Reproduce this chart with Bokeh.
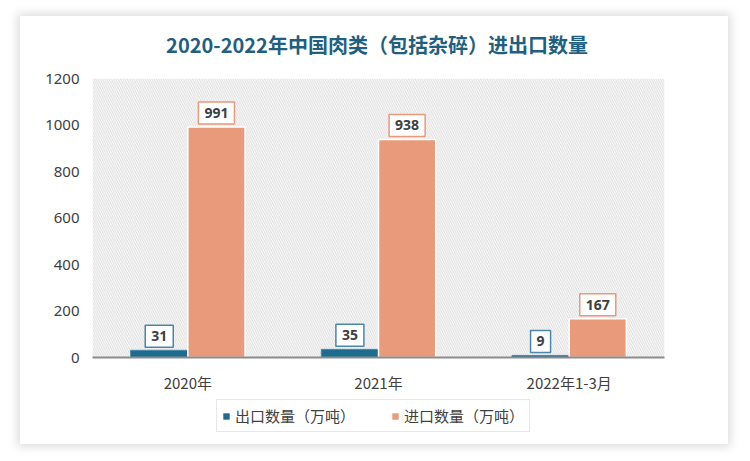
from bokeh.plotting import figure
from bokeh.layouts import column
from bokeh.models import ColumnDataSource, FactorRange, Range1d, BoxAnnotation, Legend, LegendItem, FixedTicker, Div
from bokeh.transform import dodge
from bokeh.core.properties import value
from bokeh.embed import file_html
from bokeh.resources import INLINE

categories = ["2020年", "2021年", "2022年1-3月"]
export_vals = [31, 35, 9]
import_vals = [991, 938, 167]
export_name = "出口数量（万吨）"
import_name = "进口数量（万吨）"
title_text = "2020-2022年中国肉类（包括杂碎）进出口数量"
y_ticks = [0, 200, 400, 600, 800, 1000, 1200]

EXP_FILL = "#1d6b8e"
EXP_EDGE = "#4a88aa"
IMP_FILL = "#e89a7a"

src = ColumnDataSource(dict(
    cat=categories,
    exp=export_vals,
    imp=import_vals,
    exp_lbl=[str(v) for v in export_vals],
    imp_lbl=[str(v) for v in import_vals],
))

CJK = "Noto Sans CJK SC"

title = Div(text=title_text, width=708, height=46, margin=0,
            styles={"font-family": CJK, "font-size": "20px", "font-weight": "bold",
                    "color": "#1f5f80", "text-align": "center", "line-height": "28px",
                    "padding-top": "15px", "padding-left": "6px", "box-sizing": "border-box",
                    "background-color": "white"})

p = figure(
    x_range=FactorRange(*categories),
    y_range=Range1d(0, 1200),
    width=708, height=333,
    output_backend="svg", toolbar_location=None,
    min_border_left=72, min_border_right=64, min_border_top=16, min_border_bottom=35,
    margin=0,
)
p.outline_line_color = None
p.background_fill_color = "white"
p.border_fill_color = "white"

# hatched plot background
p.add_layout(BoxAnnotation(fill_color="white", fill_alpha=1, line_color=None,
                           hatch_pattern="left_diagonal_line", hatch_color="#dadada",
                           hatch_scale=4.5, hatch_weight=1, level="underlay"))

p.vbar(x=dodge("cat", -0.15, range=p.x_range), top="exp", width=0.3, source=src,
       fill_color=EXP_FILL, line_color=EXP_EDGE, line_width=1)
p.vbar(x=dodge("cat", 0.15, range=p.x_range), top="imp", width=0.3, source=src,
       fill_color=IMP_FILL, line_color="white", line_width=1.5)

p.text(x=dodge("cat", -0.15, range=p.x_range), y="exp", text="exp_lbl", source=src,
       anchor="bottom_center", y_offset=-3,
       text_font=value("Noto Sans"), text_font_style="bold", text_font_size="14px",
       text_color="#404040", padding=6,
       background_fill_color="white", border_line_color=EXP_EDGE, border_line_width=1.5)
p.text(x=dodge("cat", 0.15, range=p.x_range), y="imp", text="imp_lbl", source=src,
       anchor="bottom_center", y_offset=-3,
       text_font=value("Noto Sans"), text_font_style="bold", text_font_size="14px",
       text_color="#404040", padding=6,
       background_fill_color="white", border_line_color=IMP_FILL, border_line_width=1.5)

p.xgrid.grid_line_color = None
p.ygrid.grid_line_color = None

p.yaxis.ticker = FixedTicker(ticks=y_ticks)
p.yaxis.axis_line_color = None
p.yaxis.major_tick_line_color = None
p.yaxis.minor_tick_line_color = None
p.yaxis.major_label_text_font = "Noto Sans"
p.yaxis.major_label_text_font_size = "15px"
p.yaxis.major_label_text_color = "#404040"
p.yaxis.major_label_standoff = 7

p.xaxis.axis_line_color = "#8c8c8c"
p.xaxis.axis_line_width = 2
p.xaxis.major_tick_line_color = None
p.xaxis.minor_tick_line_color = None
p.xaxis.major_label_text_font = CJK
p.xaxis.major_label_text_font_size = "15px"
p.xaxis.major_label_text_color = "#404040"
p.xaxis.major_label_standoff = 8

# legend strip below the chart (its bars are degenerate: zero width and zero height, so only the legend shows)
lg = figure(width=708, height=49, output_backend="svg", toolbar_location=None,
            x_axis_location=None, y_axis_location=None,
            min_border=0, margin=0, x_range=FactorRange(*categories), y_range=(0, 1000))
lg.outline_line_color = None
lg.background_fill_color = "white"
lg.border_fill_color = "white"
lg.xgrid.grid_line_color = None
lg.ygrid.grid_line_color = None
le = lg.vbar(x="cat", bottom="exp", top="exp", width=0, source=src, fill_color=EXP_FILL, line_color=None)
li = lg.vbar(x="cat", bottom="imp", top="imp", width=0, source=src, fill_color=IMP_FILL, line_color=None)

legend = Legend(items=[LegendItem(label=export_name, renderers=[le]),
                       LegendItem(label=import_name, renderers=[li])],
                orientation="horizontal", location=(124, 12),
                label_text_font=CJK, label_text_font_size="15px", label_text_color="#404040",
                glyph_width=8, glyph_height=8, spacing=36, padding=5, margin=0,
                border_line_color="#d0d0d0", border_line_width=1.5,
                label_standoff=5, background_fill_color="white")
lg.add_layout(legend, "center")

layout = column(title, p, lg, spacing=0, margin=(16, 22, 17, 20),
                styles={"box-shadow": "0 0 9px 3px rgba(0,0,0,0.13)", "background-color": "white"})

open("out.html", "w").write(file_html(layout, INLINE))
